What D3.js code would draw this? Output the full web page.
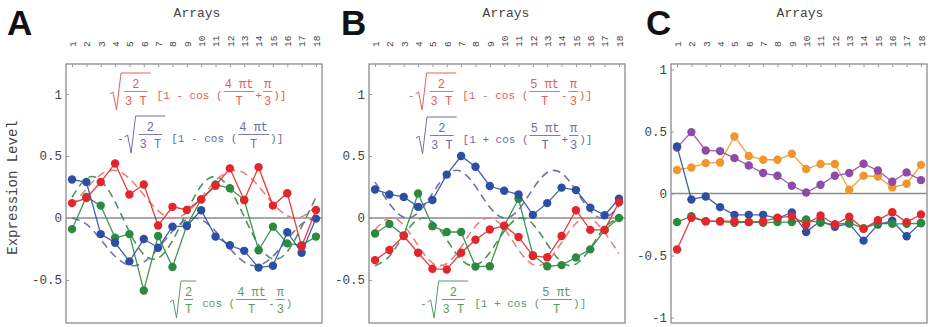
<!DOCTYPE html>
<html>
<head>
<meta charset="utf-8">
<script src="https://cdn.jsdelivr.net/npm/d3@7"></script>
<style>
  body { margin: 0; background: #fff; }
  text { white-space: pre; }
</style>
</head>
<body>
<svg id="chart" width="929" height="327"></svg>
<script>
// ---- data -------------------------------------------------------------
const arrays = [1, 2, 3, 4, 5, 6, 7, 8, 9, 10, 11, 12, 13, 14, 15, 16, 17, 18];
const arrayLabels = ["1", "2", "3", "4", "5", "6", "7", "8", "9", "10", "11", "12", "13", "14", "15", "16", "17", "18"];
const yTicksAB = [1, 0.5, 0, -0.5];
const yTicksC = [1, 0.5, 0, -0.5, -1];

// Panel A: measured expression (points) and fitted eigenarray curves (dashed)
const aRed   = [0.12, 0.16, 0.29, 0.44, 0.19, 0.27, -0.06, 0.09, 0.065, 0.15, 0.26, 0.40, 0.145, 0.41, 0.10, 0.20, -0.23, 0.065];
const aBlue  = [0.31, 0.29, -0.13, -0.20, -0.35, -0.17, -0.24, -0.07, -0.065, 0.063, -0.15, -0.22, -0.265, -0.40, -0.385, -0.115, -0.28, -0.005];
const aGreen = [-0.09, 0.17, 0.10, -0.16, -0.13, -0.585, -0.145, -0.395, -0.06, 0.15, 0.27, 0.24, 0.145, -0.26, -0.07, -0.205, -0.22, -0.15];
const aRedFit   = [0.096, 0.234, 0.350, 0.384, 0.318, 0.187, 0.058, 0.000, 0.043, 0.163, 0.299, 0.379, 0.362, 0.256, 0.117, 0.018, 0.009, 0.096];
const aBlueFit  = [0, -0.050, -0.175, -0.309, -0.382, -0.356, -0.245, -0.107, -0.013, -0.013, -0.107, -0.245, -0.356, -0.382, -0.309, -0.175, -0.050, 0];
const aGreenFit = [0.167, 0.318, 0.303, 0.130, -0.111, -0.294, -0.323, -0.184, 0.051, 0.260, 0.333, 0.232, 0.010, -0.217, -0.331, -0.272, -0.071, 0.167];

// Panel B
const bRed   = [-0.34, -0.258, -0.145, -0.28, -0.41, -0.415, -0.28, -0.175, -0.093, -0.062, -0.153, -0.306, -0.317, -0.145, 0.063, -0.096, -0.096, 0.127];
const bBlue  = [0.23, 0.19, 0.17, 0.09, 0.145, 0.35, 0.50, 0.413, 0.258, 0.22, 0.19, 0.025, 0.12, 0.245, 0.225, 0.083, 0.022, 0.155];
const bGreen = [-0.125, -0.048, -0.14, 0.198, -0.066, -0.113, -0.113, -0.392, -0.389, -0.065, 0.155, -0.30, -0.389, -0.38, -0.318, -0.253, -0.097, 0.0];
const bRedFit   = [-0.096, -0.001, -0.058, -0.222, -0.362, -0.367, -0.234, -0.067, 0.000, -0.086, -0.256, -0.376, -0.350, -0.198, -0.043, -0.006, -0.117, -0.289];
const bBlueFit  = [0.289, 0.117, 0.006, 0.043, 0.198, 0.350, 0.376, 0.256, 0.086, 0.000, 0.067, 0.234, 0.367, 0.362, 0.222, 0.058, 0.001, 0.096];
const bGreenFit = [-0.385, -0.308, -0.140, -0.013, -0.029, -0.175, -0.335, -0.382, -0.278, -0.107, -0.003, -0.050, -0.210, -0.356, -0.372, -0.245, -0.077, 0];

// Panel C
const cPurple = [0.37, 0.495, 0.347, 0.342, 0.285, 0.226, 0.165, 0.143, 0.062, 0.008, 0.07, 0.143, 0.165, 0.24, 0.185, 0.095, 0.17, 0.108];
const cOrange = [0.19, 0.21, 0.245, 0.25, 0.46, 0.303, 0.272, 0.272, 0.32, 0.197, 0.238, 0.238, 0.03, 0.143, 0.137, 0.049, 0.078, 0.231];
const cBlue   = [0.38, -0.048, -0.024, -0.11, -0.172, -0.172, -0.172, -0.2, -0.153, -0.31, -0.22, -0.268, -0.243, -0.38, -0.25, -0.22, -0.345, -0.237];
const cGreen  = [-0.231, -0.183, -0.225, -0.225, -0.237, -0.23, -0.237, -0.231, -0.231, -0.21, -0.237, -0.25, -0.237, -0.28, -0.24, -0.245, -0.245, -0.24];
const cRed    = [-0.452, -0.196, -0.223, -0.223, -0.223, -0.231, -0.223, -0.196, -0.183, -0.25, -0.177, -0.25, -0.188, -0.285, -0.215, -0.151, -0.231, -0.169];

// ---- styling ----------------------------------------------------------
const MONO = "'Liberation Mono', 'DejaVu Sans Mono', monospace";
const COL = {
  red: "#e3262b", blue: "#2c4ea3", green: "#2b8a3f", purple: "#8f4aa8", orange: "#f0962c",
  redFit: "#e9837c", blueFit: "#6f75a9", greenFit: "#4d9360",
  redTxt: "#e0625a", blueTxt: "#6a6fa8", greenTxt: "#5c9a66"
};
const frameTop = 64, frameH = 259, frameW = 256;
const xDomain = [0.58, 18.42];

const sqrt23 = { n: "2", d: "3 T" };
const panels = [
  {
    letter: "A", letterX: 7, titleX: 197, left: 66, yDomain: [-0.847, 1.242], yTicks: yTicksAB, yLabel: "Expression Level",
    fits: [[aGreenFit, COL.greenFit], [aBlueFit, COL.blueFit], [aRedFit, COL.redFit]],
    series: [[aGreen, COL.green], [aBlue, COL.blue], [aRed, COL.red]],
    formulas: [
      { x: 110, base: 99, color: COL.redTxt,
        tokens: [{ sqrt: sqrt23 }, "[1 - cos (", { n: "4 πt", d: "T" }, "+", { n: "π", d: "3" }, ")]"] },
      { x: 117, base: 142, color: COL.blueTxt,
        tokens: ["-", { sqrt: sqrt23 }, "[1 - cos (", { n: "4 πt", d: "T" }, ")]"] },
      { x: 170, base: 307, color: COL.greenTxt,
        tokens: [{ sqrt: { n: "2", d: "T" } }, "cos (", { n: "4 πt", d: "T" }, "-", { n: "π", d: "3" }, ")"] }
    ]
  },
  {
    letter: "B", letterX: 341, titleX: 506, left: 369, yDomain: [-0.847, 1.242], yTicks: yTicksAB,
    fits: [[bGreenFit, COL.greenFit], [bBlueFit, COL.blueFit], [bRedFit, COL.redFit]],
    series: [[bGreen, COL.green], [bBlue, COL.blue], [bRed, COL.red]],
    formulas: [
      { x: 408, base: 99, color: COL.redTxt,
        tokens: ["-", { sqrt: sqrt23 }, "[1 - cos (", { n: "5 πt", d: "T" }, "-", { n: "π", d: "3" }, ")]"] },
      { x: 416, base: 143, color: COL.blueTxt,
        tokens: [{ sqrt: sqrt23 }, "[1 + cos (", { n: "5 πt", d: "T" }, "+", { n: "π", d: "3" }, ")]"] },
      { x: 420, base: 307, color: COL.greenTxt,
        tokens: ["-", { sqrt: sqrt23 }, "[1 + cos (", { n: "5 πt", d: "T" }, ")]"] }
    ]
  },
  {
    letter: "C", letterX: 646, titleX: 800, left: 671, yDomain: [-1.044, 1.044], yTicks: yTicksC,
    fits: [],
    series: [[cOrange, COL.orange], [cPurple, COL.purple], [cBlue, COL.blue], [cGreen, COL.green], [cRed, COL.red]],
    formulas: []
  }
];

// ---- drawing ----------------------------------------------------------
const svg = d3.select("#chart");

function drawFormula(g, spec) {
  const { base, color, tokens } = spec;
  let x = spec.x;
  const put = (s, px, py, anchor, size) => g.append("text")
    .attr("x", px).attr("y", py).attr("text-anchor", anchor)
    .attr("fill", color).attr("font-size", size).attr("font-family", MONO).text(s);
  const frac = (f, px) => {
    const tn = put(f.n, 0, base - 11, "middle", 12);
    const td = put(f.d, 0, base + 6, "middle", 12);
    const w = Math.max(tn.node().getComputedTextLength(), td.node().getComputedTextLength()) + 2;
    tn.attr("x", px + w / 2);
    td.attr("x", px + w / 2);
    g.append("line").attr("x1", px).attr("x2", px + w).attr("y1", base - 7.5).attr("y2", base - 7.5)
      .attr("stroke", color).attr("stroke-width", 0.9);
    return w;
  };
  tokens.forEach(tok => {
    if (typeof tok === "string") {
      const t = put(tok, x, base, "start", 11);
      x += t.node().getComputedTextLength() + 1;
    } else if (tok.sqrt) {
      const top = base - 26, start = x;
      const w = frac(tok.sqrt, start + 14);
      const end = start + 14 + w + 3;
      g.append("path")
        .attr("d", `M${start},${base - 5}L${start + 3},${base - 7}L${start + 6.5},${base + 11}L${start + 11},${top}L${end},${top}`)
        .attr("fill", "none").attr("stroke", color).attr("stroke-width", 1);
      x = end + 6;
    } else {
      x += frac(tok, x) + 1;
    }
  });
}

panels.forEach(p => {
  const g = svg.append("g");
  const x = d3.scaleLinear().domain(xDomain).range([p.left, p.left + frameW]);
  const y = d3.scaleLinear().domain(p.yDomain).range([frameTop + frameH, frameTop]);

  // panel letter and column title
  g.append("text").attr("x", p.letterX).attr("y", 35)
    .attr("font-family", "'Liberation Sans', Arial, sans-serif").attr("font-weight", "bold")
    .attr("font-size", 35).attr("fill", "#111").text(p.letter);
  g.append("text").attr("x", p.titleX).attr("y", 17).attr("text-anchor", "middle")
    .attr("font-family", MONO).attr("font-size", 13).attr("fill", "#444").text("Arrays");

  if (p.yLabel) {
    g.append("text").attr("transform", `translate(17,${frameTop + frameH / 2 - 6}) rotate(-90)`)
      .attr("text-anchor", "middle").attr("font-family", MONO).attr("font-size", 14)
      .attr("fill", "#444").text(p.yLabel);
  }

  // frame
  g.append("rect").attr("x", p.left).attr("y", frameTop).attr("width", frameW).attr("height", frameH)
    .attr("fill", "none").attr("stroke", "#8c8c8c").attr("stroke-width", 1.3);

  // top axis: inward ticks, rotated array numbers
  const top = g.append("g").attr("transform", `translate(0,${frameTop})`)
    .call(d3.axisTop(x).tickValues(arrays).tickSize(-3).tickFormat((d, i) => arrayLabels[i]));
  top.select(".domain").remove();
  top.selectAll(".tick line").attr("stroke", "#999");
  top.selectAll(".tick text")
    .attr("transform", `translate(0,${47 - frameTop}) rotate(-90)`)
    .attr("x", 0).attr("y", 0).attr("dy", "0.35em").attr("text-anchor", "start")
    .attr("font-family", MONO).attr("font-size", 9.5).attr("fill", "#444");

  // left axis
  const left = g.append("g").attr("transform", `translate(${p.left},0)`)
    .call(d3.axisLeft(y).tickValues(p.yTicks).tickSize(-3).tickPadding(4).tickFormat(d => String(d)));
  left.select(".domain").remove();
  left.selectAll(".tick line").attr("stroke", "#999");
  left.selectAll(".tick text").attr("font-family", MONO).attr("font-size", 12.5).attr("fill", "#444");

  // zero line
  g.append("line").attr("x1", p.left).attr("x2", p.left + frameW).attr("y1", y(0)).attr("y2", y(0))
    .attr("stroke", "#8c8c8c").attr("stroke-width", 1.5);

  // formulas
  p.formulas.forEach(f => drawFormula(g, f));

  // fitted curves (dashed)
  const fitLine = d3.line().x((d, i) => x(arrays[i])).y(d => y(d)).curve(d3.curveNatural);
  p.fits.forEach(([vals, color]) => {
    g.append("path").datum(vals).attr("d", fitLine).attr("fill", "none")
      .attr("stroke", color).attr("stroke-width", 1.6).attr("stroke-dasharray", "8,5");
  });

  // measured series
  const dataLine = d3.line().x((d, i) => x(arrays[i])).y(d => y(d));
  p.series.forEach(([vals, color]) => {
    const sg = g.append("g");
    sg.append("path").datum(vals).attr("d", dataLine).attr("fill", "none")
      .attr("stroke", color).attr("stroke-width", 1.3).attr("stroke-opacity", 0.9);
    sg.selectAll("circle").data(vals).join("circle")
      .attr("cx", (d, i) => x(arrays[i])).attr("cy", d => y(d)).attr("r", 4.2).attr("fill", color);
  });
});
</script>
</body>
</html>
